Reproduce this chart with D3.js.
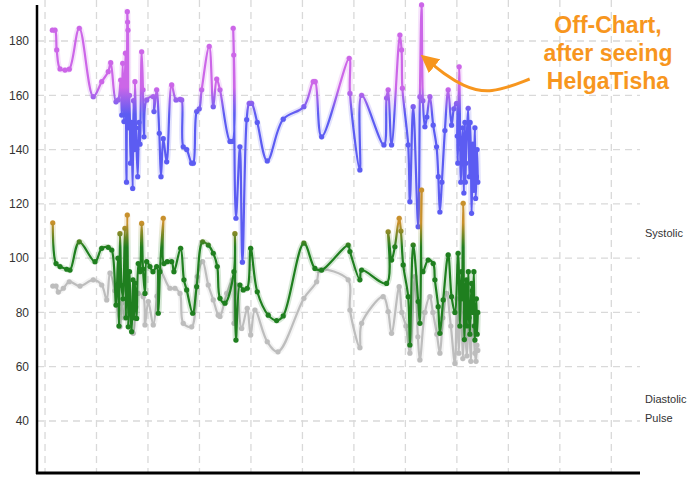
<!DOCTYPE html>
<html>
<head>
<meta charset="utf-8">
<script src="https://cdn.jsdelivr.net/npm/d3@7"></script>
<style>
  body { margin: 0; background: #fff; }
  svg { display: block; font-family: "Liberation Sans", Arial, sans-serif; }
</style>
</head>
<body>
<div id="chart"></div>
<script>
// readings, x in days (grid every 7 days)
const systolicDays = [0.99,1.36,1.59,2.04,2.72,3.30,4.66,6.56,7.71,8.60,8.93,9.65,9.96,10.29,10.43,10.56,10.74,10.94,11.08,11.19,11.23,11.28,11.35,11.49,11.62,11.76,11.92,12.03,12.16,12.23,12.37,12.60,12.78,12.91,13.14,13.32,13.46,13.82,14.72,14.82,15.18,15.54,15.77,16.08,16.54,17.22,17.81,18.35,18.58,18.80,19.26,19.94,20.16,20.62,20.97,21.30,22.33,22.88,23.34,23.79,25.15,25.49,25.59,25.66,25.96,26.50,26.84,27.42,27.77,28.09,28.86,30.22,32.39,35.20,36.47,36.74,37.61,41.36,41.46,42.81,43.05,46.08,46.44,46.66,47.12,48.25,48.48,48.59,49.38,49.61,50.06,50.74,50.97,51.20,51.38,51.65,51.92,52.33,52.78,53.24,53.48,53.69,53.96,54.37,54.82,55.28,55.59,55.96,56.05,56.13,56.31,56.54,56.65,56.81,56.95,57.09,57.15,57.22,57.35,57.54,57.70,57.80,57.90,58.00,58.10,58.17,58.31,58.38,58.45,58.55,58.65,58.75,58.85];
const systolic = [184,184,176.7,169.7,169.3,169.6,184.7,159.5,165,168.7,172,157.6,158.3,165.6,152.7,171.8,150.3,175.5,128,190.8,187,184,148,160,135,150,125.7,158,140,165,148,130,150,142,176,162,144.7,158.3,159.5,154,162,146,130,144,135.5,163.8,158.3,158.5,158.3,141,140,135,135,154,155,162,178,155.8,166,162,143,143,184.7,174.8,114.7,141,98.5,151,157,157,150,135.8,151.2,155.8,165,165,144.7,173.6,160.7,132.5,160,141.7,159,162,141.7,182.2,176.7,162.6,141.7,120.8,155.8,111.6,159.5,193.3,158,148.4,152,159.5,149,141,130,117,128,147,162,149,155,157,145,135,170.5,128,140,148,124,150,128,135,145,155.2,130,150,140,116.5,132,142,125,138,148,122,130,140,128];

const diastolicDays = [1.05,1.50,2.04,2.95,3.40,4.66,6.80,7.71,8.60,9.07,9.65,9.92,10.06,10.19,10.40,10.60,10.87,11.01,11.19,11.32,11.49,11.62,11.78,11.96,12.10,12.23,12.46,12.68,12.91,13.14,13.32,13.59,13.82,14.27,14.68,15.18,15.40,15.63,16.08,16.17,16.62,17.22,17.53,18.44,18.89,19.26,20.08,20.62,21.43,22.20,22.88,23.42,23.79,24.47,25.69,25.82,25.96,26.50,26.95,27.50,27.96,28.86,30.35,31.49,32.39,35.20,36.70,37.61,41.22,41.46,42.81,43.05,46.44,46.66,47.12,47.57,48.16,48.39,48.70,49.38,49.61,50.06,50.74,50.97,51.20,51.38,52.10,52.78,53.01,53.46,53.69,54.14,54.82,55.28,55.73,56.17,56.41,56.61,56.70,56.86,57.02,57.22,57.30,57.36,57.56,57.65,57.77,58.00,58.10,58.17,58.31,58.38,58.45,58.65,58.75,58.85];
const diastolic = [113,98,96.9,95.9,95.6,106,98.7,103.6,104,103,82.7,100,75,109,90,85,111,78,115.9,74.7,95,80,72.9,92,78,90.8,77.8,98,95,112.8,96,87,98.7,96.9,95,96.9,79.7,95,114.7,98,98.7,98.7,95,103.6,92,88.3,79.7,89.5,106,104.8,101.8,96.9,85.2,83.4,95,109,69.8,90.1,88.3,88.9,103.6,87.6,79,77,78.7,105.5,96.2,95.6,104.8,102.4,92,95.6,90.7,109.7,99.3,104.2,114.7,110,97.5,85.8,68,104.8,84,76,125.1,95,99.3,98,92,82.1,72.3,84.6,101.2,85.8,80,101.8,75,95,85,120.2,70,90,92,75,95,78,72,90.7,88,80,95,75,69.8,85,72,80];

const pulseDays = [1.05,1.50,1.81,2.49,3.30,4.76,6.56,7.71,8.39,8.83,9.51,10.19,10.43,10.74,11.15,11.55,12.00,12.37,12.68,13.36,13.59,14.04,14.72,15.22,15.63,16.99,17.67,18.35,18.80,19.94,20.70,21.43,22.20,22.88,23.55,23.79,24.70,25.51,25.69,26.06,26.74,27.50,27.96,28.54,30.22,31.67,35.20,36.93,37.38,41.22,41.46,42.81,43.05,45.98,46.66,47.12,48.16,48.52,49.07,49.61,50.29,50.70,50.97,51.65,52.33,52.74,53.28,53.69,54.10,54.60,55.18,55.73,56.00,56.27,56.54,56.81,57.09,57.20,57.36,57.63,57.90,58.00,58.17,58.45,58.60,58.72,58.85];
const pulse = [89.7,89.7,87.5,88.9,91.3,89.7,92,90.1,84.6,94.5,88,74.7,83.4,78,88,76,72.3,82,87,85.8,75.4,84,75.4,86,95.6,88.9,88.9,87,76,74.7,93.2,98.7,90.1,84.6,79,78.5,87,92,76,90.1,74.1,81.5,71.7,80.9,69.2,65.5,85.2,91.3,95.6,92,80.9,67,76,85.8,80.3,72.3,89.5,80,75,65,93.2,71,62.5,80,85.8,80,72,65,78,87,75,61.2,85,65,88,63,80,70,64,78,62,72,75,65,62,68,66];

const yTicks = [40, 60, 80, 100, 120, 140, 160, 180];
const xGridDays = [0, 7, 14, 21, 28, 35, 42, 49, 56, 63, 70, 77];
const seriesLabels = ["Systolic", "Diastolic", "Pulse"];
const noteLines = ["Off-Chart,", "after seeing", "HelgaTisha"];

const width = 690, height = 478;
const plot = { left: 37, right: 640, top: 5, bottom: 473 };

const svg = d3.select("#chart").append("svg")
    .attr("width", width)
    .attr("height", height);

const x = d3.scaleLinear().domain([-1.09, 80.9]).range([plot.left, plot.right]);
const y = d3.scaleLinear().domain([20.84, 193.26]).range([plot.bottom, plot.top]);

// gradients for the colour bands
const defs = svg.append("defs");
function band(id, topColor, bottomColor, vTop, vBottom) {
    const g = defs.append("linearGradient")
        .attr("id", id)
        .attr("gradientUnits", "userSpaceOnUse")
        .attr("x1", 0).attr("x2", 0)
        .attr("y1", y(vTop)).attr("y2", y(vBottom));
    g.append("stop").attr("offset", 0).attr("stop-color", topColor);
    g.append("stop").attr("offset", 1).attr("stop-color", bottomColor);
}
band("sysGrad", "#cc66e8", "#5c5cf2", 163, 153);
band("diaGrad", "#c8902c", "#1f7f1f", 113, 104);

// grid
svg.append("g")
    .selectAll("line")
    .data(yTicks)
    .join("line")
    .attr("x1", plot.left).attr("x2", plot.right)
    .attr("y1", d => y(d)).attr("y2", d => y(d))
    .attr("stroke", "#d9d9d9")
    .attr("stroke-width", 1.3)
    .attr("stroke-dasharray", "7,5");

svg.append("g")
    .selectAll("line")
    .data(xGridDays)
    .join("line")
    .attr("x1", d => x(d)).attr("x2", d => x(d))
    .attr("y1", 0).attr("y2", plot.bottom)
    .attr("stroke", "#d9d9d9")
    .attr("stroke-width", 1.3)
    .attr("stroke-dasharray", "7,5");

// y axis labels
svg.append("g")
    .call(d3.axisLeft(y).tickValues(yTicks).tickSize(0).tickPadding(8))
    .call(g => g.select(".domain").remove())
    .attr("transform", `translate(${plot.left},0)`)
    .selectAll("text")
    .style("font-family", "'Liberation Sans', Arial, sans-serif")
    .style("font-size", "12px")
    .attr("fill", "#333");

const line = d3.line()
    .x(d => x(d[0]))
    .y(d => y(d[1]))
    .curve(d3.curveCatmullRom.alpha(0.5));

function drawSeries(days, values, color) {
    const pts = days.map((d, i) => [d, values[i]]);
    const g = svg.append("g");
    g.append("path")
        .attr("d", line(pts))
        .attr("fill", "none")
        .attr("stroke", color)
        .attr("stroke-opacity", 0.18)
        .attr("stroke-width", 6);
    g.append("path")
        .attr("d", line(pts))
        .attr("fill", "none")
        .attr("stroke", color)
        .attr("stroke-width", 2.2);
    g.selectAll("circle")
        .data(pts)
        .join("circle")
        .attr("cx", d => x(d[0]))
        .attr("cy", d => y(d[1]))
        .attr("r", 2.6)
        .attr("fill", color);
}

drawSeries(pulseDays, pulse, "#bdbdbd");
drawSeries(systolicDays, systolic, "url(#sysGrad)");
drawSeries(diastolicDays, diastolic, "url(#diaGrad)");

// axes lines
svg.append("line")
    .attr("x1", plot.left).attr("x2", plot.left)
    .attr("y1", plot.top).attr("y2", plot.bottom + 1)
    .attr("stroke", "#000").attr("stroke-width", 2.5);
svg.append("line")
    .attr("x1", plot.left - 1).attr("x2", plot.right)
    .attr("y1", plot.bottom).attr("y2", plot.bottom)
    .attr("stroke", "#000").attr("stroke-width", 3);

// series names on the right
const labelY = [237, 403, 422];
svg.append("g")
    .selectAll("text")
    .data(seriesLabels)
    .join("text")
    .attr("x", 645)
    .attr("y", (d, i) => labelY[i])
    .style("font-size", "11px")
    .attr("fill", "#333")
    .text(d => d);

// annotation
const orange = "#f7961e";
svg.append("g")
    .selectAll("text")
    .data(noteLines)
    .join("text")
    .attr("x", 608)
    .attr("y", (d, i) => 33 + i * 28)
    .attr("text-anchor", "middle")
    .style("font-size", "23px")
    .style("font-weight", "bold")
    .attr("fill", orange)
    .text(d => d);

defs.append("marker")
    .attr("id", "head")
    .attr("viewBox", "0 0 10 10")
    .attr("refX", 3).attr("refY", 5)
    .attr("markerWidth", 6).attr("markerHeight", 6)
    .attr("orient", "auto")
    .append("path")
    .attr("d", "M0,0L10,5L0,10z")
    .attr("fill", orange);

const arrowPts = [[65.9, 166], [60.5, 160.3], [56.8, 163.4], [54.1, 168.2], [52.4, 172]];
svg.append("path")
    .attr("d", d3.line().x(d => x(d[0])).y(d => y(d[1])).curve(d3.curveBasis)(arrowPts))
    .attr("fill", "none")
    .attr("stroke", orange)
    .attr("stroke-width", 3)
    .attr("marker-end", "url(#head)");
</script>
</body>
</html>
